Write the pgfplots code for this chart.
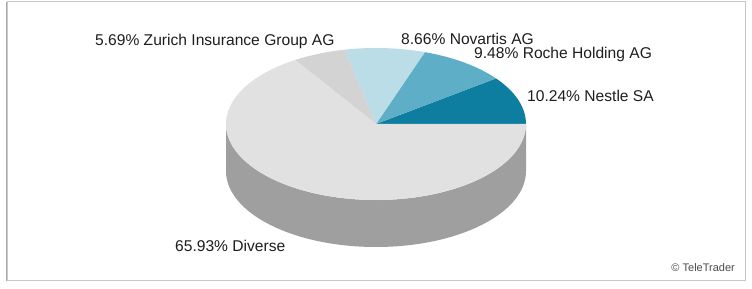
\documentclass[border=0pt]{standalone}
\usepackage{pgfplots}
\pgfplotsset{compat=1.18}
\usepackage{pgfplotstable}
\usepackage{fontspec}
\setmainfont{Liberation Sans}
\definecolor{cNestle}{RGB}{14,126,160}
\definecolor{cRoche}{RGB}{95,174,200}
\definecolor{cNovartis}{RGB}{187,221,231}
\definecolor{cZurich}{RGB}{211,211,211}
\definecolor{cDiverse}{RGB}{225,225,225}
\definecolor{cSide}{RGB}{159,159,159}
\definecolor{cFrame}{RGB}{200,200,200}
\definecolor{cText}{RGB}{30,30,30}
\pgfplotstableread[col sep=comma]{
name,value,color,lx,ly
Nestle SA,10.24,cNestle,527,193
Roche Holding AG,9.48,cRoche,474,235
Novartis AG,8.66,cNovartis,401,250
Zurich Insurance Group AG,5.69,cZurich,95,248
Diverse,65.93,cDiverse,175,43
}\piedata
\begin{document}
\begin{tikzpicture}
\begin{axis}[x=1pt,y=1pt,xmin=0,xmax=752,ymin=0,ymax=289,hide axis,clip=false,scale only axis]
\fill[white] (axis cs:0,0) rectangle (axis cs:752,289);
\draw[cFrame,line width=1pt] (axis cs:7,8.5) rectangle (axis cs:745.5,287);
\draw[cFrame!85!black,line width=0.8pt] (axis cs:6,8) -- (axis cs:6,287);
\fill[cSide] (axis cs:226,165) -- (axis cs:226,118) arc[start angle=180,end angle=360,x radius=150pt,y radius=76pt] -- (axis cs:526,165) arc[start angle=0,end angle=-180,x radius=150pt,y radius=76pt] -- cycle;
\pgfplotstablegetrowsof{\piedata}
\pgfmathtruncatemacro\N{\pgfplotsretval-1}
\def\cum{0}
\pgfplotsforeachungrouped \i in {0,...,\N}{%
  \pgfplotstablegetelem{\i}{value}\of\piedata \let\v\pgfplotsretval
  \pgfplotstablegetelem{\i}{color}\of\piedata \let\c\pgfplotsretval
  \pgfplotstablegetelem{\i}{name}\of\piedata \let\nm\pgfplotsretval
  \pgfplotstablegetelem{\i}{lx}\of\piedata \let\lx\pgfplotsretval
  \pgfplotstablegetelem{\i}{ly}\of\piedata \let\ly\pgfplotsretval
  \pgfmathsetmacro\a{\cum*3.6}%
  \pgfmathsetmacro\b{(\cum+\v)*3.6}%
  \edef\temp{\noexpand\fill[\c] (axis cs:376,165) -- ++(\a:150pt and 76pt) arc[start angle=\a,end angle=\b,x radius=150pt,y radius=76pt] -- cycle;
  \noexpand\node[anchor=west,inner sep=0pt,text=cText,font=\noexpand\fontsize{15.6}{18}\noexpand\selectfont] at (axis cs:\lx,\ly) {\v\noexpand\%\space\nm};}%
  \temp
  \pgfmathsetmacro\cum{\cum+\v}%
}
\node[anchor=east,inner sep=0pt,text=black!70,font=\fontsize{11}{13}\selectfont] at (axis cs:735,21) {© TeleTrader};
\end{axis}
\end{tikzpicture}
\end{document}
